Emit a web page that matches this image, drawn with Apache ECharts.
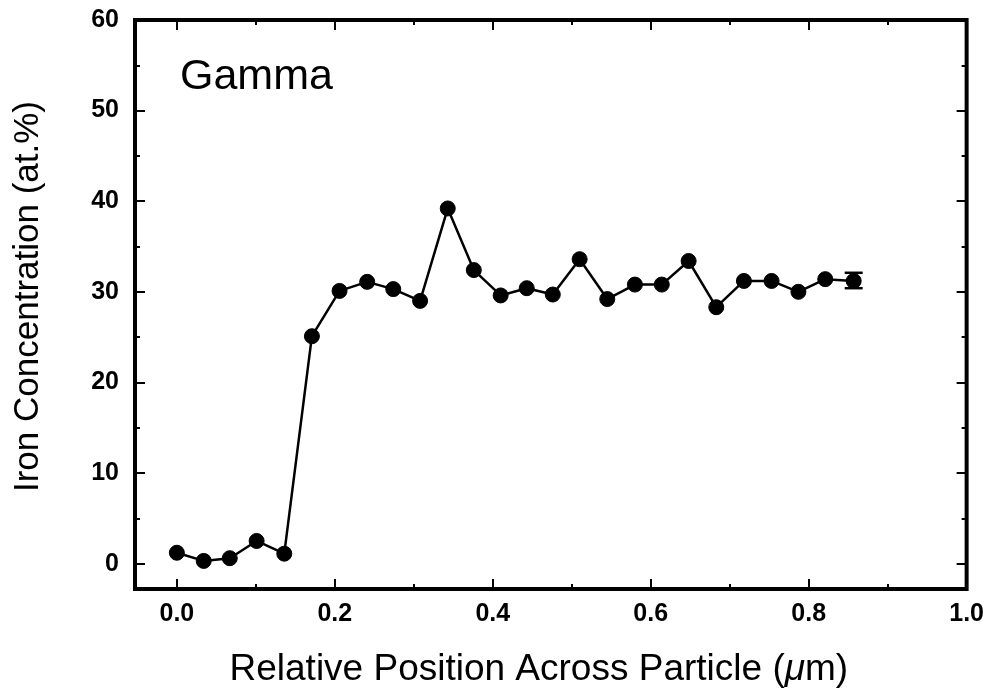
<!DOCTYPE html>
<html>
<head>
<meta charset="utf-8">
<title>Gamma – Iron Concentration Profile</title>
<script src="https://cdn.jsdelivr.net/npm/echarts@6/dist/echarts.min.js"></script>
<style>
  html, body { margin: 0; padding: 0; background: #fff; }
  #chart { width: 987px; height: 697px; }
</style>
</head>
<body>
<div id="chart"></div>
<script>
// Relative position across the particle (µm) for each analysis point
const positions = [0.000, 0.034, 0.067, 0.101, 0.136, 0.171, 0.206, 0.241, 0.274, 0.308,
                   0.343, 0.376, 0.410, 0.443, 0.476, 0.510, 0.545, 0.580, 0.614, 0.648,
                   0.683, 0.718, 0.753, 0.787, 0.821, 0.857];
// Iron concentration (at.%) at each point
const ironConc = [1.2, 0.3, 0.6, 2.5, 1.1, 25.1, 30.1, 31.1, 30.3, 29.0,
                  39.2, 32.4, 29.6, 30.4, 29.7, 33.6, 29.2, 30.8, 30.8, 33.4,
                  28.3, 31.2, 31.2, 30.0, 31.4, 31.2];
// Representative error bar (shown on the last point)
const errX = [0.857];
const errLow = [30.4];
const errHigh = [32.1];

// Tick positions and labels
const xMajorTicks = [0, 0.2, 0.4, 0.6, 0.8, 1.0];
const xMinorTicks = [0.1, 0.3, 0.5, 0.7, 0.9];
const yMajorTicks = [0, 10, 20, 30, 40, 50, 60];
const yMinorTicks = [5, 15, 25, 35, 45, 55];

const panelLabel = 'Gamma';
const xTitle = 'Relative Position Across Particle ({mu|\u03bc}m)';
const yTitle = 'Iron Concentration (at.%)';

const FONT = '"Liberation Sans", Arial, Helvetica, sans-serif';
const X_MIN = -0.053, X_MAX = 1.0;
const Y_MIN = -2.8, Y_MAX = 60;

const chart = echarts.init(document.getElementById('chart'), null, { renderer: 'canvas' });

function xAxisDef(pos, ticks, len, withLabels, extra) {
  return Object.assign({
    type: 'value', position: pos, min: X_MIN, max: X_MAX,
    axisLine: { show: false, onZero: false },
    splitLine: { show: false },
    axisTick: { show: true, inside: true, length: len, customValues: ticks,
                lineStyle: { color: '#000', width: 2 } },
    axisLabel: withLabels ? {
      show: true, customValues: ticks, margin: 13,
      fontFamily: FONT, fontSize: 25, fontWeight: 'bold', color: '#000',
      formatter: v => v.toFixed(1)
    } : { show: false }
  }, extra || {});
}

function yAxisDef(pos, ticks, len, withLabels, extra) {
  return Object.assign({
    type: 'value', position: pos, min: Y_MIN, max: Y_MAX,
    axisLine: { show: false, onZero: false },
    splitLine: { show: false },
    axisTick: { show: true, inside: true, length: len, customValues: ticks,
                lineStyle: { color: '#000', width: 2 } },
    axisLabel: withLabels ? {
      show: true, customValues: ticks, margin: 16,
      fontFamily: FONT, fontSize: 25, fontWeight: 'bold', color: '#000',
      formatter: v => String(v)
    } : { show: false }
  }, extra || {});
}

const option = {
  backgroundColor: '#fff',
  animation: false,
  grid: {
    left: 135, right: 20, top: 20, bottom: 108,
    show: true, borderColor: '#000', borderWidth: 4, backgroundColor: 'transparent'
  },
  xAxis: [
    xAxisDef('bottom', xMajorTicks, 10, true, {
      name: xTitle, nameLocation: 'middle', nameGap: 62,
      nameTextStyle: { fontFamily: FONT, fontSize: 37, color: '#000', padding: [0, 24, 0, 0],
                       rich: { mu: { fontFamily: FONT, fontSize: 37, fontStyle: 'italic', color: '#000' } } }
    }),
    xAxisDef('bottom', xMinorTicks, 5, false),
    xAxisDef('top', xMajorTicks, 10, false),
    xAxisDef('top', xMinorTicks, 5, false)
  ],
  yAxis: [
    yAxisDef('left', yMajorTicks, 10, true, {
      name: yTitle, nameLocation: 'middle', nameGap: 89,
      nameTextStyle: { fontFamily: FONT, fontSize: 35, color: '#000', padding: [0, 0, 0, 16] }
    }),
    yAxisDef('left', yMinorTicks, 5, false),
    yAxisDef('right', yMajorTicks, 10, false),
    yAxisDef('right', yMinorTicks, 5, false)
  ],
  graphic: [{
    type: 'text', left: 180, top: 56, silent: true,
    style: { text: panelLabel, font: '43px ' + FONT, fill: '#000' }
  }],
  series: [
    {
      type: 'line',
      xAxisIndex: 0, yAxisIndex: 0,
      data: positions.map((x, i) => [x, ironConc[i]]),
      symbol: 'circle', symbolSize: 15,
      lineStyle: { color: '#000', width: 2.5 },
      itemStyle: { color: '#000', borderColor: '#000' },
      z: 3
    },
    {
      type: 'custom',
      xAxisIndex: 0, yAxisIndex: 0,
      data: errX.map((x, i) => [x, errLow[i], errHigh[i]]),
      renderItem: function (params, api) {
        const lo = api.coord([api.value(0), api.value(1)]);
        const hi = api.coord([api.value(0), api.value(2)]);
        const hw = 9;
        const st = { stroke: '#000', lineWidth: 2.5 };
        return {
          type: 'group',
          children: [
            { type: 'line', shape: { x1: lo[0], y1: lo[1], x2: hi[0], y2: hi[1] }, style: st },
            { type: 'line', shape: { x1: lo[0] - hw, y1: lo[1], x2: lo[0] + hw, y2: lo[1] }, style: st },
            { type: 'line', shape: { x1: hi[0] - hw, y1: hi[1], x2: hi[0] + hw, y2: hi[1] }, style: st }
          ]
        };
      },
      z: 4
    }
  ]
};

chart.setOption(option);
</script>
</body>
</html>
